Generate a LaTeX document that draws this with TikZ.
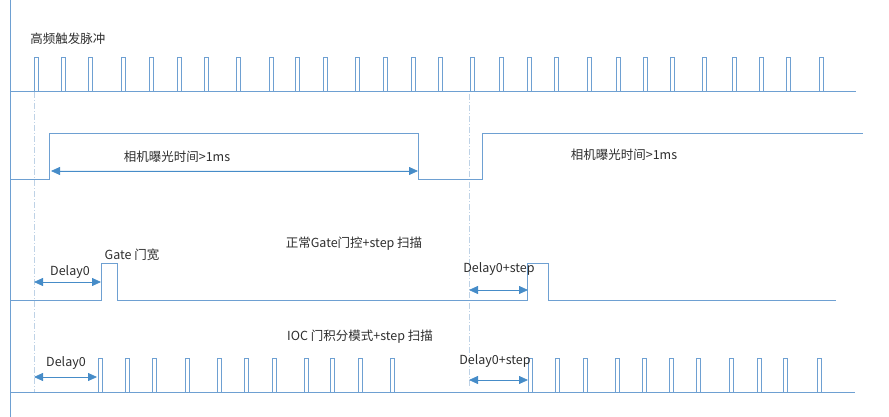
\documentclass[tikz,border=0pt]{standalone}
\usepackage{fontspec}
\setmainfont{Noto Sans CJK SC}
\usetikzlibrary{arrows.meta, positioning}
\definecolor{wireblue}{RGB}{110, 160, 210}
\definecolor{arrowblue}{RGB}{70, 140, 200}
\definecolor{guideblue}{RGB}{190, 210, 230}
\definecolor{labelgray}{RGB}{45, 45, 45}

\begin{document}
\begin{tikzpicture}[
    x=1pt, y=-1pt,
    wave/.style={draw=wireblue, line width=0.9pt},
    guide/.style={draw=guideblue, line width=0.8pt,
                  dash pattern=on 6pt off 2pt on 1pt off 2pt},
    dimarr/.style={{Triangle[length=9pt,width=8pt]}-{Triangle[length=9pt,width=8pt]},
                   draw=arrowblue, fill=arrowblue, line width=0.8pt},
    lbl/.style={font=\fontsize{12.5}{14}\selectfont, text=labelgray, inner sep=1pt}
]
\useasboundingbox (0,0) rectangle (889,417);

% Axis and guides
\draw[wave] (10,0) -- (10,417);
\draw[guide] (34,92) -- (34,392);
\draw[guide] (469,94) -- (469,388);

% Trigger pulses
\draw[wave] (10,91) -- (856,91);
\foreach \p in {34,61,88,121,149,177,204,236,269,295,323,355,383,411,438,
                470,499,527,554,587,616,643,670,702,732,759,786,819}
  \draw[wave] (\p,91) -- (\p,57) -- (\p+4,57) -- (\p+4,91);
\node[lbl] (trig) at (68,39) {高频触发脉冲};

% Camera exposure
\draw[wave] (10,179) -- (49,179) -- (49,133) -- (418,133) -- (418,179)
            -- (482,179) -- (482,133) -- (863,133);
\coordinate (expA) at (51,171);
\coordinate (expB) at (418,171);
\draw[dimarr] (expA) -- (expB);
\node[lbl] (exp1) at (177,157) {相机曝光时间>1ms};
\node[lbl] (exp2) at (624,155) {相机曝光时间>1ms};

% Gate scan
\draw[wave] (10,300) -- (101,300) -- (101,263) -- (117,263) -- (117,300)
            -- (527,300) -- (527,263) -- (548,263) -- (548,300) -- (836,300);
\coordinate (gd0a) at (34,282);
\coordinate (gd0b) at (101,282);
\draw[dimarr] (gd0a) -- (gd0b);
\node[lbl] (gdelay) at (70,272) {Delay0};
\node[lbl] (gwidth) at (132,255) {Gate 门宽};
\node[lbl] (gtitle) at (354,244) {正常Gate门控+step 扫描};
\coordinate (gd1a) at (469,290);
\coordinate (gd1b) at (528,290);
\draw[dimarr] (gd1a) -- (gd1b);
\node[lbl] (gstep) at (499,269) {Delay0+step};

% IOC scan
\draw[wave] (10,392) -- (855,392);
\foreach \p in {98,125,152,185,217,244,272,304,330,358,390,
                528,555,583,615,642,669,696,729,757,783,817}
  \draw[wave] (\p,392) -- (\p,358) -- (\p+4,358) -- (\p+4,392);
\coordinate (id0a) at (34,377);
\coordinate (id0b) at (97,377);
\draw[dimarr] (id0a) -- (id0b);
\node[lbl] (idelay) at (66,363) {Delay0};
\node[lbl] (ititle) at (360,337) {IOC 门积分模式+step 扫描};
\coordinate (id1a) at (469,380);
\coordinate (id1b) at (528,380);
\draw[dimarr] (id1a) -- (id1b);
\node[lbl] (istep) at (495,361) {Delay0+step};

\end{tikzpicture}
\end{document}
